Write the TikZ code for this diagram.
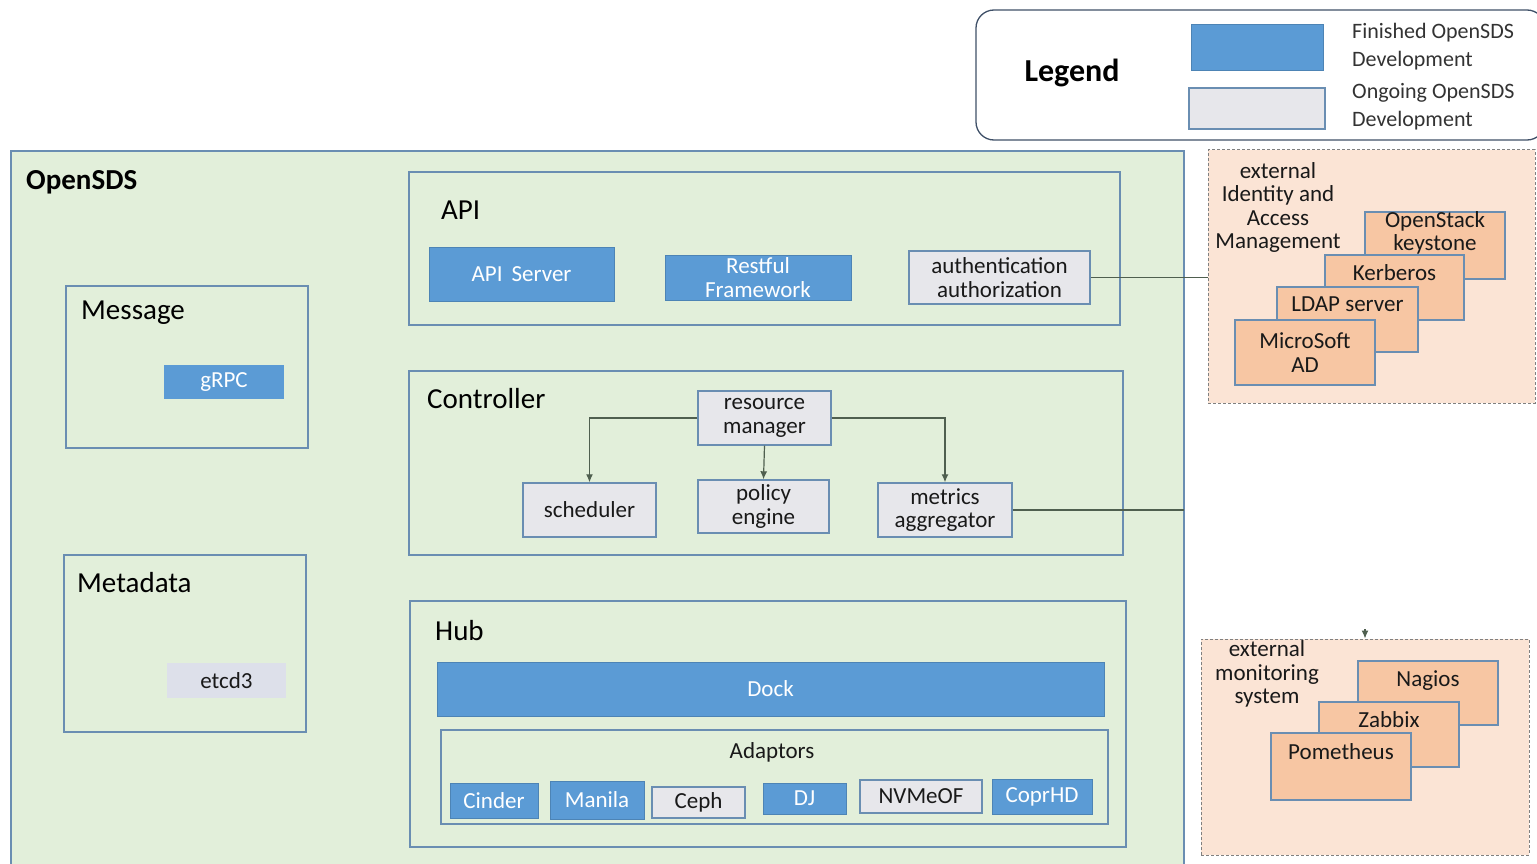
\documentclass[tikz,border=0pt]{standalone}
\usepackage{fontspec}
\setmainfont{Carlito}
\usetikzlibrary{arrows.meta}
\definecolor{sdsgreen}{HTML}{E2EFDA}
\definecolor{sdsedge}{HTML}{6A8EB2}
\definecolor{sdsblue}{HTML}{5B9BD5}
\definecolor{sdsgrey}{HTML}{E7E7EB}
\definecolor{sdsetcd}{HTML}{DDE0EA}
\definecolor{extpeach}{HTML}{FBE4D5}
\definecolor{extbox}{HTML}{F7C6A3}
\definecolor{linkgrey}{HTML}{4F5F4F}
\definecolor{legendedge}{HTML}{3F5068}

\begin{document}
\begin{tikzpicture}[x=1pt,y=-1pt,
    boxfont/.style={font=\fontsize{23}{23.5}\selectfont},
    group/.style={draw=sdsedge,line width=1.6pt,inner sep=0pt},
    title/.style={anchor=west,inner sep=0pt,font=\fontsize{29}{33}\selectfont},
    done/.style={boxfont,fill=sdsblue,draw=sdsblue!85!black,line width=1pt,text=white,align=center,inner sep=0pt},
    ongoing/.style={boxfont,fill=sdsgrey,draw=sdsedge,line width=1.4pt,text=black!90,align=center,inner sep=0pt},
    ext/.style={fill=extpeach,draw=gray,line width=1pt,dash pattern=on 3pt off 2pt,inner sep=0pt},
    exttext/.style={boxfont,align=center,inner sep=0pt,text=black!90},
    tool/.style={boxfont,fill=extbox,draw=sdsedge,line width=1.3pt,align=center,inner sep=0pt,text=black!90},
    toollabel/.style={anchor=center,yshift=-18pt,boxfont,align=center,inner sep=0pt,text=black!90},
    legendtext/.style={anchor=west,align=left,inner sep=0pt,text=black!80,font=\fontsize{22}{28}\selectfont},
    link/.style={draw=linkgrey,line width=1.2pt},
    >={Latex[length=8pt,width=7pt]}]
    \clip (0,0) rectangle (1537,864);
    \fill[white] (0,0) rectangle (1537,864);

    % legend
    \node (legend) at (1260.5,75) [draw=legendedge,line width=1.3pt,rounded corners=18pt,minimum width=569pt,minimum height=130pt] {};
    \node (legendtitle) at (1072,73) [inner sep=0pt,font=\fontsize{32}{36}\selectfont\bfseries] {Legend};
    \node (finsw) at (1257,48) [done,minimum width=132pt,minimum height=46pt] {};
    \node (ongsw) at (1257,108.5) [ongoing,minimum width=136pt,minimum height=41pt] {};
    \node (fintext) at (1352,47) [legendtext] {Finished OpenSDS\\Development};
    \node (ongtext) at (1352,107) [legendtext] {Ongoing OpenSDS\\Development};

    % OpenSDS
    \node (opensds) at (597.5,515) [group,fill=sdsgreen,minimum width=1173pt,minimum height=728pt] {};
    \node (opensdstitle) at (26,182) [title,font=\fontsize{29}{33}\selectfont\bfseries] {OpenSDS};

    % API
    \node (api) at (764.5,248.5) [group,minimum width=711pt,minimum height=153pt] {};
    \node (apititle) at (441,210) [title] {API};
    \node (apiserver) at (521.5,274) [done,minimum width=185pt,minimum height=54pt] {API\, Server};
    \node (restful) at (758,277.5) [done,minimum width=186pt,minimum height=45pt] {Restful\\Framework};
    \node (auth) at (999.5,277.5) [ongoing,minimum width=181pt,minimum height=53pt] {authentication\\authorization};

    % Message and Metadata
    \node (message) at (187,367) [group,minimum width=242pt,minimum height=162pt] {};
    \node (messagetitle) at (81,313) [title] {Message};
    \node (grpc) at (224,382) [done,draw=none,minimum width=120pt,minimum height=34pt] {gRPC};
    \node (metadata) at (185,643.5) [group,minimum width=242pt,minimum height=177pt] {};
    \node (metadatatitle) at (77,583) [title] {Metadata};
    \node (etcd) at (226.5,680.5) [ongoing,fill=sdsetcd,draw=none,minimum width=119pt,minimum height=35pt] {etcd3};

    % Controller
    \node (controller) at (766,463) [group,minimum width=714pt,minimum height=184pt] {};
    \node (controllertitle) at (427,399) [title] {Controller};
    \node (resmgr) at (764.5,418) [ongoing,minimum width=133pt,minimum height=54pt] {resource\\manager};
    \node (scheduler) at (589.5,510) [ongoing,minimum width=133pt,minimum height=54pt] {scheduler};
    \node (policy) at (763.5,506.5) [ongoing,minimum width=131pt,minimum height=53pt] {policy\\engine};
    \node (metrics) at (945,510) [ongoing,minimum width=134pt,minimum height=54pt] {metrics\\aggregator};
    \draw[link,->] (resmgr.west) -| (scheduler.north);
    \draw[link,->] (resmgr.south) -- (policy.north);
    \draw[link,->] (resmgr.east) -| (metrics.north);

    % Hub
    \node (hub) at (768,724) [group,minimum width=716pt,minimum height=246pt] {};
    \node (hubtitle) at (435,631) [title] {Hub};
    \node (dock) at (770.5,689) [done,minimum width=667pt,minimum height=54pt] {Dock};
    \node (adaptors) at (774.5,777) [group,line width=1.4pt,minimum width=667pt,minimum height=94pt] {};
    \node (adaptorstitle) at (772,752) [exttext] {Adaptors};
    \node (cinder) at (494,800.5) [done,minimum width=88pt,minimum height=35pt] {Cinder};
    \node (manila) at (597,800) [done,minimum width=94pt,minimum height=38pt] {Manila};
    \node (ceph) at (698.5,802.5) [ongoing,minimum width=93pt,minimum height=31pt] {Ceph};
    \node (dj) at (804.5,798.5) [done,minimum width=83pt,minimum height=31pt] {DJ};
    \node (nvmeof) at (921,796.5) [ongoing,minimum width=122pt,minimum height=33pt] {NVMeOF};
    \node (coprhd) at (1042,796.5) [done,minimum width=100pt,minimum height=35pt] {CoprHD};

    % external identity and access management
    \node (idm) at (1371.5,276.5) [ext,minimum width=327pt,minimum height=253pt] {};
    \node (idmtext) at (1278,207.5) [exttext] {external\\Identity and\\Access\\Management};
    \node (keystone) at (1435,245.5) [tool,minimum width=140pt,minimum height=67pt,label={[toollabel,yshift=-3.5pt]north:{OpenStack\\keystone}}] {};
    \node (kerberos) at (1394.5,287.5) [tool,minimum width=139pt,minimum height=65pt,label={[toollabel]north:Kerberos}] {};
    \node (ldap) at (1347.5,319.5) [tool,minimum width=141pt,minimum height=65pt,label={[toollabel]north:LDAP server}] {};
    \node (msad) at (1305,352.5) [tool,minimum width=140pt,minimum height=65pt] {MicroSoft\\AD};
    \draw[link] (auth.east) -- (auth.east -| idm.west);

    % external monitoring
    \node (monitor) at (1365,747) [ext,minimum width=328pt,minimum height=216pt] {};
    \node (monitortext) at (1267,674) [exttext] {external\\monitoring\\system};
    \node (nagios) at (1428,693) [tool,minimum width=140pt,minimum height=64pt,label={[toollabel,yshift=-2pt]north:Nagios}] {};
    \node (zabbix) at (1389,734.5) [tool,minimum width=140pt,minimum height=65pt,label={[toollabel]north:Zabbix}] {};
    \node (pometheus) at (1341,766.5) [tool,minimum width=140pt,minimum height=67pt,label={[toollabel,yshift=-1pt]north:Pometheus}] {};
    \coordinate (metout) at (1184,510);
    \coordinate (monin) at (1365,629);
    \draw[link] (metrics.east) -- (metout);
    \draw[link,->] (monin) -- (monitor.north);
\end{tikzpicture}
\end{document}
